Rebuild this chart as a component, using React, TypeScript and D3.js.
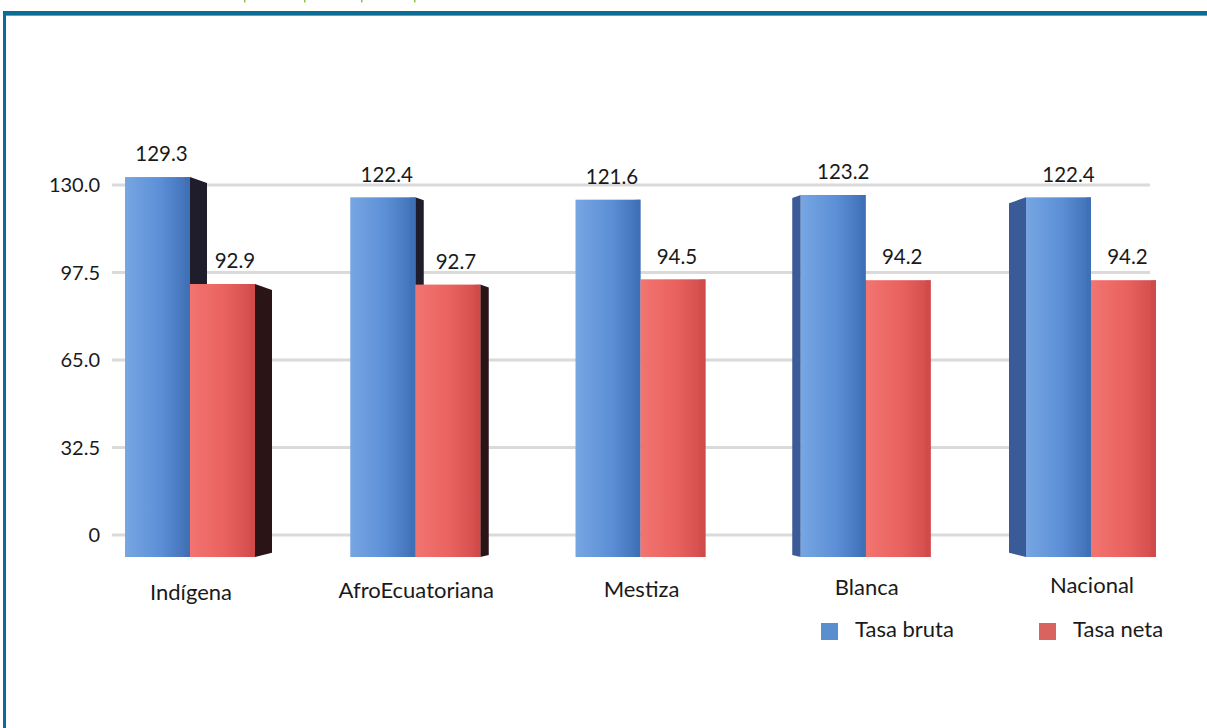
import React from "react";
import * as d3 from "d3";

const categories = ["Indígena", "AfroEcuatoriana", "Mestiza", "Blanca", "Nacional"];
const seriesNames = ["Tasa bruta", "Tasa neta"];
const tasaBruta = [129.3, 122.4, 121.6, 123.2, 122.4];
const tasaNeta = [92.9, 92.7, 94.5, 94.2, 94.2];
const yTicks = [0, 32.5, 65.0, 97.5, 130.0];
const tickLabels = ["0", "32.5", "65.0", "97.5", "130.0"];

const W = 1207;
const H = 728;
const FONT = "Lato, 'Open Sans', sans-serif";

const front = ["#5b8fd6", "#e9625f"];
const light = ["#78a6e3", "#f27471"];
const dark = ["#3f6fb5", "#cf4b4a"];
const legendCol = ["#5a8fcf", "#d9635f"];

export default function App() {
  const values = [tasaBruta, tasaNeta];
  const x = d3.scalePoint<string>().domain(categories).range([190, 1091]);
  const inner = d3.scaleBand<string>().domain(seriesNames).range([-65, 65]).padding(0);
  const yBar = d3.scaleLinear().domain([0, 130]).range([557, 175]);
  const yWall = d3.scaleLinear().domain([0, 130]).range([535, 185]);
  const bw = inner.bandwidth();

  // perspective side depth for each group (right faces at left, left faces at right)
  const depth = (i: number) => (2 - i) * 8.5;

  const bars: React.ReactNode[] = [];
  categories.forEach((c, i) => {
    const d = depth(i);
    const order = d >= 0 ? [0, 1] : [1, 0];
    order.forEach((s) => {
      const v = values[s][i];
      const x0 = (x(c) as number) + (inner(seriesNames[s]) as number);
      const x1 = x0 + bw;
      const top = yBar(v);
      const bottom = yBar(0);
      let face: string | null = null;
      if (d > 0) {
        face = `${x1},${top} ${x1 + d},${top + d * 0.35} ${x1 + d},${bottom - d * 0.25} ${x1},${bottom}`;
      } else if (d < 0) {
        face = `${x0},${top} ${x0 + d},${top - d * 0.35} ${x0 + d},${bottom + d * 0.25} ${x0},${bottom}`;
      }
      const faceColor = d > 0 ? (s === 0 ? "#1f1d2b" : "#2a1416") : "#3b5a98";
      const lx = (x0 + x1) / 2 + 4 + (d > 0 && s === 1 ? d * 0.5 : 0) + (d < 0 && s === 0 ? 6 : 0);
      bars.push(
        <g key={`${c}-${s}`}>
          {face && <polygon points={face} fill={faceColor} />}
          <rect x={x0} y={top} width={bw} height={bottom - top} fill={`url(#grad${s})`} />
          <rect x={x1 - 5} y={top} width={5} height={bottom - top} fill={dark[s]} opacity={0.6} />
          <text
            x={lx}
            y={top - 21}
            textAnchor="middle"
            dominantBaseline="middle"
            fontSize={20.5}
            fontFamily={FONT}
            fill="#1a1a1a"
          >
            {v.toFixed(1)}
          </text>
        </g>
      );
    });
  });

  return (
    <svg width={W} height={H} style={{ position: "absolute", left: 0, top: 0, background: "#fff" }}>
      <defs>
        {[0, 1].map((s) => (
          <linearGradient key={s} id={`grad${s}`} x1="0" x2="1" y1="0" y2="0">
            <stop offset="0%" stopColor={light[s]} />
            <stop offset="55%" stopColor={front[s]} />
            <stop offset="100%" stopColor={dark[s]} />
          </linearGradient>
        ))}
      </defs>
      <rect x={0} y={0} width={W} height={H} fill="#fff" />
      {/* frame */}
      <rect x={3} y={11} width={W - 3} height={4} fill="#0b6d93" />
      <rect x={3} y={15} width={W - 3} height={1} fill="#5aa6c4" />
      <rect x={3} y={11} width={3} height={H - 11} fill="#0b6d93" />
      {[244, 304, 361, 414].map((gx) => (
        <rect key={gx} x={gx} y={0} width={1.5} height={2.5} fill="#8cc63f" />
      ))}
      {/* gridlines */}
      {yTicks.map((t) => (
        <line key={t} x1={112} x2={1150} y1={yWall(t)} y2={yWall(t)} stroke="#dadada" strokeWidth={3} />
      ))}
      {/* y tick labels */}
      {yTicks.map((t, k) => (
        <text
          key={t}
          x={100}
          y={yWall(t) + 2}
          textAnchor="end"
          dominantBaseline="middle"
          fontSize={20}
          fontFamily={FONT}
          fill="#1a1a1a"
        >
          {tickLabels[k]}
        </text>
      ))}
      {bars}
      {/* category labels */}
      {categories.map((c, i) => (
        <text
          key={c}
          x={(x(c) as number) + 1}
          y={591 + depth(i) * 0.2}
          textAnchor="middle"
          dominantBaseline="middle"
          fontSize={22}
          fontFamily={FONT}
          fill="#1a1a1a"
        >
          {c}
        </text>
      ))}
      {/* legend */}
      {seriesNames.map((n, s) => {
        const lx = 821 + s * 218;
        return (
          <g key={n}>
            <rect x={lx} y={623} width={17} height={17} fill={legendCol[s]} />
            <text x={lx + 34} y={631} dominantBaseline="middle" fontSize={22} fontFamily={FONT} fill="#1a1a1a">
              {n}
            </text>
          </g>
        );
      })}
    </svg>
  );
}
